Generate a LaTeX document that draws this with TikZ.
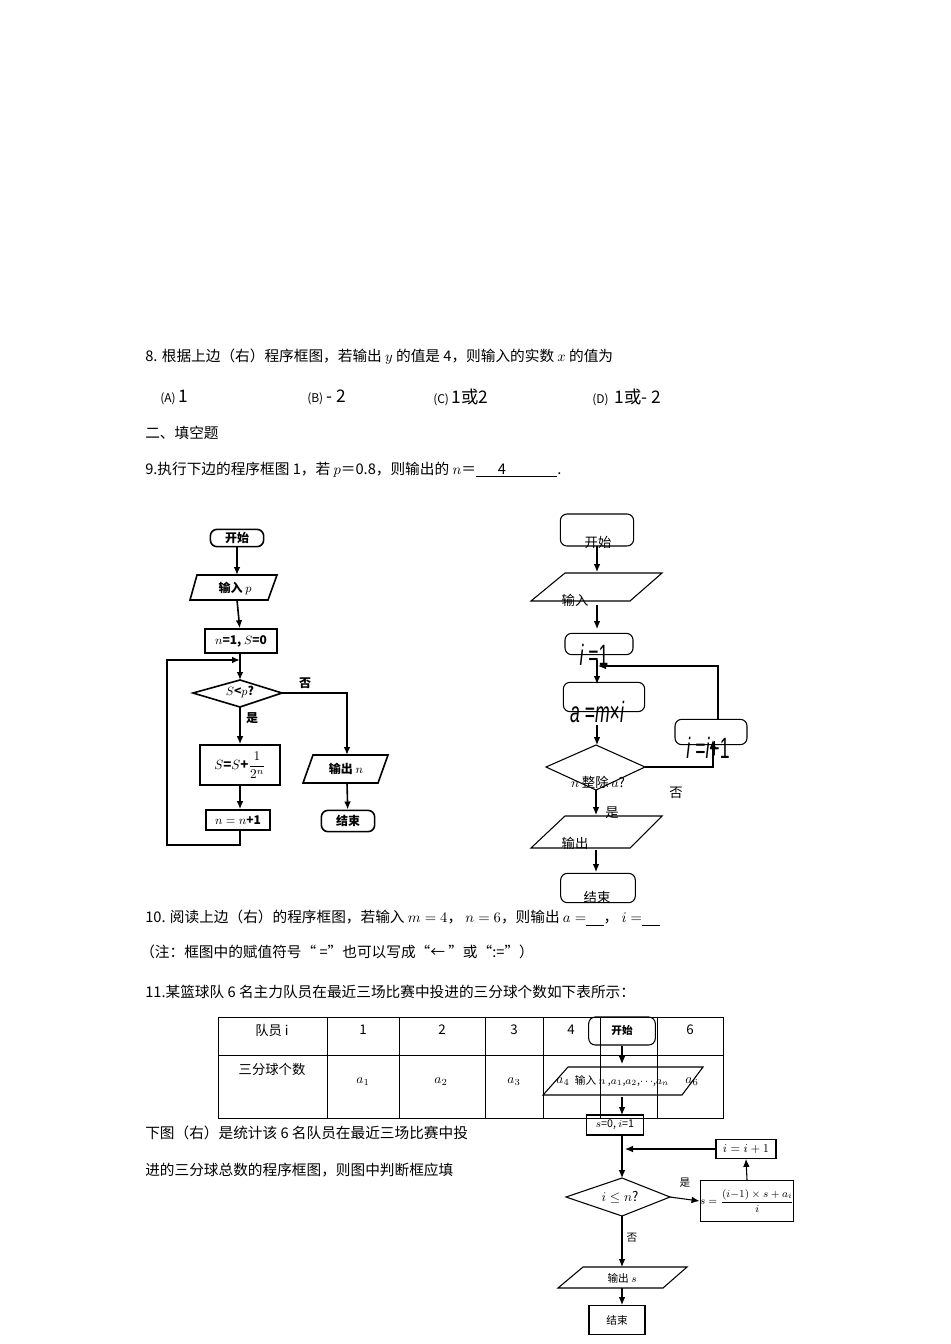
\documentclass[tikz,border=0pt]{standalone}
\usepackage{fontspec}
\setmainfont{Liberation Serif}
\newfontfamily\cjk{Noto Sans CJK SC}
\newfontfamily\narrow{Liberation Sans}
\usetikzlibrary{arrows.meta}
\begin{document}
\begin{tikzpicture}[x=0.75pt,y=-0.75pt,
  txt/.style={anchor=west,inner sep=0pt,font=\cjk\fontsize{11}{13}\selectfont},
  lab/.style={inner sep=0pt,font=\cjk\fontsize{10}{12}\selectfont},
  bl/.style={inner sep=0pt,font=\cjk\bfseries\fontsize{9}{11}\selectfont},
  sm/.style={inner sep=0pt,font=\cjk\fontsize{8}{10}\selectfont},
  big/.style={inner sep=0pt,xscale=0.6,font=\narrow\fontsize{22}{22}\selectfont},
  fc/.style={line width=1.2pt},
  fcb/.style={line width=0.8pt},
  arr/.style={-{Latex[length=6pt,width=5pt]}},
  rbox/.style={draw,rounded corners=5pt}]
\useasboundingbox (0,0) rectangle (950,1344);
% Text
\node[txt] (q8) at (145,357) {8. 根据上边（右）程序框图，若输出 $y$ 的值是 4，则输入的实数 $x$ 的值为};
\node[txt] (oa) at (160,397) {\fontsize{9}{9}\selectfont(A)\fontsize{13}{13}\selectfont\,1};
\node[txt] (ob) at (307,397) {\fontsize{9}{9}\selectfont(B)\fontsize{13}{13}\selectfont\,- 2};
\node[txt] (oc) at (433,397) {\fontsize{9}{9}\selectfont(C)\fontsize{13}{13}\selectfont\,1或2};
\node[txt] (od) at (592,397) {\fontsize{9}{9}\selectfont(D)\fontsize{13}{13}\selectfont\,\,1或- 2};
\node[txt] (h2) at (145,433) {二、填空题};
\node[txt] (q9) at (145,470) {9.执行下边的程序框图 1，若 $p$＝0.8，则输出的 $n$＝\underline{\hspace{1.5em}4\hspace{3.5em}}.};
\node[txt] (q10) at (145,918) {10. 阅读上边（右）的程序框图，若输入 $m=4$， $n=6$，则输出 $a=$\underline{\hspace{1.2em}}， $i=$\underline{\hspace{1.2em}}};
\node[txt] (note) at (140,952) {（注：框图中的赋值符号“ =”也可以写成“← ”或“:=”）};
\node[txt] (q11) at (145,992) {11.某篮球队 6 名主力队员在最近三场比赛中投进的三分球个数如下表所示：};
\node[txt] (l1) at (145,1133) {下图（右）是统计该 6 名队员在最近三场比赛中投};
\node[txt] (l2) at (145,1170) {进的三分球总数的程序框图，则图中判断框应填};

% Figure 1
\node[rbox,fc,bl,minimum width=40pt,minimum height=13pt] (s1) at (237,538) {开始};
\draw[fc] (197,575) -- (277,575) -- (268,600) -- (190,600) -- cycle;
\node[bl] (in1) at (235,588) {输入 $p$};
\node[draw,fc,bl,minimum width=54pt,minimum height=18pt] (init1) at (241,641) {$n$=1, $S$=0};
\coordinate (top1) at (240,680);
\draw[fc] (240,680) -- (282,693) -- (240,707) -- (193,693) -- cycle;
\coordinate (dr1) at (282,693); \coordinate (db1) at (240,707);
\node[bl] (dt1) at (240,692) {$S$<$p$?};
\node[draw,fc,bl,minimum width=60pt,minimum height=30pt] (ss1) at (240,765) {\fontsize{10}{10}\selectfont$S$=$S$+$\displaystyle\frac{1}{2^n}$};
\node[draw,fc,bl,minimum width=48pt,minimum height=15pt] (nn1) at (238,820) {$n=n$+1};
\draw[fc] (313,755) -- (388,755) -- (378,783) -- (303,783) -- cycle;
\node[bl] (o1) at (346,769) {输出 $n$};
\node[rbox,fc,bl,minimum width=40pt,minimum height=16pt] (e1) at (348,821) {结束};
\node[bl] at (305,683) {否};
\node[bl] at (252,718) {是};
\draw[fc,arr] (s1) -- (237,575);
\draw[fc,arr] (237,600) -- (init1);
\draw[fc,arr] (init1.south -| 240,0) -- (top1);
\draw[fc,arr] (db1) -- (ss1);
\draw[fc,arr] (ss1.south -| 240,0) -- (nn1.north -| 240,0);
\draw[fc,arr] (240,830) -- (240,845) -- (167,845) -- (167,660) -- (240,660);
\draw[fc,arr] (dr1) -- (347,693) -- (347,755);
\draw[fc,arr] (347,783) -- (e1);

% Figure 2
\node[rbox,fcb,minimum width=55pt,minimum height=24pt] (s2) at (597,530) {};
\node[lab] at (598,542) {开始};
\draw[fcb] (565,573) -- (662,573) -- (630,601) -- (531,601) -- cycle;
\node[lab] at (575,600) {输入};
\node[rbox,fcb,minimum width=51pt,minimum height=16pt] (i2) at (599,644) {};
\node[big] at (594,655) {\itshape i\upshape\ =1};
\node[rbox,fcb,minimum width=61pt,minimum height=22pt] (a2) at (604,697) {};
\node[big] at (597,712) {\itshape a\upshape\ =\itshape m\upshape×\itshape i};
\node[rbox,fcb,minimum width=54pt,minimum height=19pt] (ii2) at (711,732) {};
\node[big] at (708,748) {\itshape i\upshape\ =\itshape i\upshape+1};
\draw[fcb] (596,745) -- (645,767) -- (596,790) -- (546,767) -- cycle;
\coordinate (dr2) at (645,767);
\node[lab] at (598,782) {$n$ 整除 $a$?};
\draw[fcb] (565,816) -- (662,816) -- (630,848) -- (531,848) -- cycle;
\node[lab] at (575,843) {输出};
\node[rbox,fcb,minimum width=56pt,minimum height=22pt] (e2) at (598,888) {};
\node[lab] at (597,897) {结束};
\node[lab] at (676,793) {否};
\node[lab] at (612,813) {是};
\draw[fcb,arr] (597,546) -- (597,572);
\draw[fcb,arr] (597,605) -- (597,629);
\draw[fcb,arr] (597,660) -- (597,684);
\draw[fcb,arr] (597,725) -- (597,745);
\draw[fcb,arr] (596,790) -- (596,815);
\draw[fcb,arr] (596,850) -- (596,872);
\draw[fcb,arr] (dr2) -- (713,767) -- (713,740);
\draw[fcb,arr] (718,720) -- (718,666) -- (598,666);

% Table
\draw[line width=0.6pt] (218,1017) rectangle (723,1118);
\draw[line width=0.6pt] (218,1055) -- (723,1055);
\foreach \xx in {327,399,485,543,600,657} \draw[line width=0.6pt] (\xx,1017) -- (\xx,1118);
\node[lab] at (272,1030) {队员 i};
\node[lab] at (272,1069) {三分球个数};
\node[lab] at (363,1030) {1};
\node[lab] at (442,1030) {2};
\node[lab] at (514,1030) {3};
\node[lab] at (571,1030) {4};
\node[lab] at (690,1030) {6};
\node[lab] at (363,1082) {$a_1$};
\node[lab] at (441,1082) {$a_2$};
\node[lab] at (514,1082) {$a_3$};
\node[lab] at (563,1082) {$a_4$};
\node[lab] at (692,1082) {$a_6$};

% Figure 3
\node[rbox,fcb,minimum width=50pt,minimum height=21pt] (s3) at (622,1031) {};
\node[sm,font=\cjk\bfseries\fontsize{8}{10}\selectfont] at (622,1030) {开始};
\draw[fcb] (568,1067) -- (703,1067) -- (682,1095) -- (543,1095) -- cycle;
\node[sm] at (622,1081) {输入 $n$ ,$a_1$,$a_2$,$\cdots$,$a_n$};
\node[draw,fcb,sm,minimum width=43pt,minimum height=15pt] (init3) at (615,1125) {$s$=0, $i$=1};
\draw[fcb] (622,1178) -- (670,1197) -- (622,1216) -- (566,1197) -- cycle;
\coordinate (dt3) at (622,1178); \coordinate (dr3) at (670,1197); \coordinate (db3) at (622,1216);
\node[sm] at (620,1197) {\fontsize{10}{10}\selectfont$i\le n$?};
\node[draw,fcb,sm,minimum width=45pt,minimum height=14pt] (ii3) at (746,1149) {\fontsize{9}{9}\selectfont$i=i+1$};
\node[draw,fcb,sm,minimum width=69pt,minimum height=31pt] (s3b) at (747,1201) {$s=\displaystyle\frac{(i{-}1)\times s+a_i}{i}$};
\draw[fcb] (583,1267) -- (687,1267) -- (663,1288) -- (558,1288) -- cycle;
\node[sm] at (622,1278) {输出 $s$};
\node[draw,fcb,sm,minimum width=42pt,minimum height=22pt] (e3) at (617,1320) {结束};
\node[sm] at (685,1183) {是};
\node[sm] at (632,1238) {否};
\draw[fcb,arr] (s3.south) -- (622,1064);
\draw[fcb,arr] (622,1097) -- (622,1115);
\draw[fcb,arr] (622,1135) -- (dt3);
\draw[fcb,arr] (ii3.west) -- (625,1149);
\draw[fcb,arr] (dr3) -- (s3b.west);
\draw[fcb,arr] (s3b.north) -- (ii3.south);
\draw[fcb,arr] (db3) -- (622,1267);
\draw[fcb,arr] (622,1288) -- (622,1305);
\end{tikzpicture}
\end{document}
